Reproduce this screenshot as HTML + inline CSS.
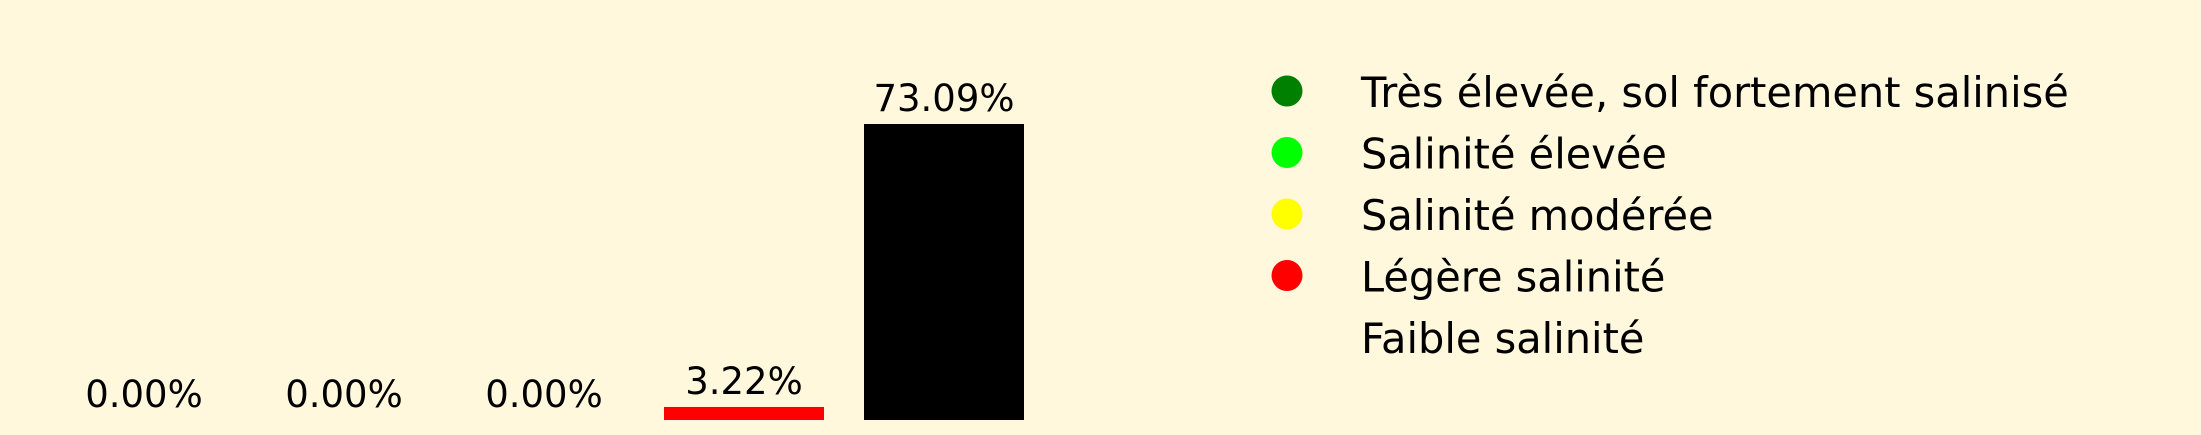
<!DOCTYPE html>
<html><head><meta charset="utf-8"><style>
html,body{margin:0;padding:0;background:#fff8dc;}
svg{display:block;font-family:"DejaVu Sans","Liberation Sans",sans-serif;}
</style></head><body>
<svg id="chart" width="2201" height="435" viewBox="0 0 2201 435">
<rect width="2201" height="435" fill="#fff8dc"/>
<g id="bars"></g>
<g id="legend"></g>
</svg>
<script>
const categories = ["Très élevée, sol fortement salinisé","Salinité élevée","Salinité modérée","Légère salinité","Faible salinité"];
const values = [0, 0, 0, 3.22, 73.09];
const colors = ["#008000","#00ff00","#ffff00","#ff0000","#000000"];
const legendColors = ["#008000","#00ff00","#ffff00","#ff0000",null];

const NS = "http://www.w3.org/2000/svg";
const baseY = 420, pxPerUnit = 296/73.09;
function xCenter(i){ return 144 + 200*i; }
function yScale(v){ return baseY - v*pxPerUnit; }
const barW = 160;
const bars = document.getElementById('bars');
values.forEach((v,i)=>{
  const r = document.createElementNS(NS,'rect');
  r.setAttribute('x', xCenter(i)-barW/2);
  r.setAttribute('y', yScale(v));
  r.setAttribute('width', barW);
  r.setAttribute('height', baseY - yScale(v));
  r.setAttribute('fill', colors[i]);
  
  
  bars.appendChild(r);
  const t = document.createElementNS(NS,'text');
  t.setAttribute('x', xCenter(i));
  t.setAttribute('y', yScale(v) - 13);
  t.setAttribute('text-anchor','middle');
  t.setAttribute('font-size','37');
  t.setAttribute('fill','#000');
  t.textContent = v.toFixed(2) + '%';
  
  
  bars.appendChild(t);
});
const legend = document.getElementById('legend');
categories.forEach((c,i)=>{
  const g = document.createElementNS(NS,'g');
  
  
  const cy = 91 + 61.5*i;
  if (legendColors[i]) {
    const ci = document.createElementNS(NS,'circle');
    ci.setAttribute('cx', 1287);
    ci.setAttribute('cy', cy);
    ci.setAttribute('r', 15.5);
    ci.setAttribute('fill', legendColors[i]);
    
    
    g.appendChild(ci);
  }
  const t = document.createElementNS(NS,'text');
  t.setAttribute('x', 1361);
  t.setAttribute('y', 107 + 61.5*i);
  t.setAttribute('font-size','41.5');
  t.setAttribute('fill','#000');
  t.textContent = c;
  
  
  g.appendChild(t);
  legend.appendChild(g);
});
</script>
</body></html>
